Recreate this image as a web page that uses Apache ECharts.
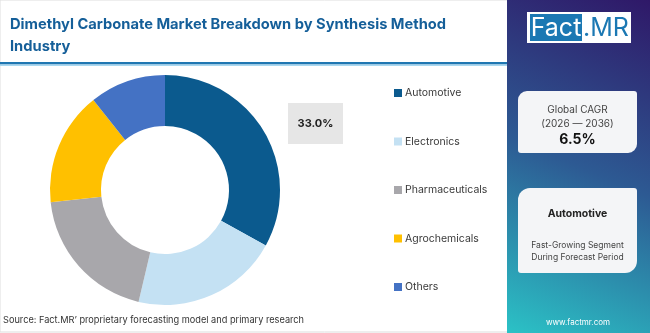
<!DOCTYPE html>
<html><head><meta charset="utf-8">
<script src="https://cdn.jsdelivr.net/npm/echarts@6/dist/echarts.min.js"></script>
<style>html,body{margin:0;padding:0;background:#fff}#c{width:650px;height:333px}</style>
</head><body><div id="c"></div>
<script>
const categories = ['Automotive', 'Electronics', 'Pharmaceuticals', 'Agrochemicals', 'Others'];
const shares = [33.0, 20.7, 19.6, 16.0, 10.7];
const colors = ['#0B5A8E', '#C4E1F3', '#A8A7AB', '#FFC000', '#4472C4'];
const titleLines = ['Dimethyl Carbonate Market Breakdown by Synthesis Method', 'Industry'];
const cagrText = ['Global CAGR', '(2026 \u2014 2036)', '6.5%'];
const segmentText = ['Automotive', 'Fast-Growing Segment', 'During Forecast Period'];
const sourceText = 'Source: Fact.MR\u2019 proprietary forecasting model and primary research';

const F = 'Inter, "Noto Sans", sans-serif';
const chart = echarts.init(document.getElementById('c'), null, {renderer: 'canvas'});
const panelGrad = new echarts.graphic.LinearGradient(1, 0, 0, 1, [
  {offset: 0, color: '#2F1868'},
  {offset: 0.5, color: '#2D5A93'},
  {offset: 1, color: '#2BC2C6'}
]);
chart.setOption({
  animation: false,
  backgroundColor: '#fff',
  color: colors,
  legend: {
    orient: 'vertical', left: 389, top: 81,
    itemWidth: 8, itemHeight: 8, itemGap: 34.5, icon: 'rect',
    textStyle: {fontFamily: F, fontSize: 10.5, color: '#3a3a3a', lineHeight: 14, padding: [0, 0, 0, -2]},
    data: categories
  },
  series: [{
    type: 'pie', center: [165, 190], radius: [64, 115], startAngle: 90, clockwise: true,
    label: {show: false}, labelLine: {show: false}, silent: true,
    data: categories.map((c, i) => ({name: c, value: shares[i]}))
  }],
  graphic: [
    {type: 'rect', shape: {x: 0, y: 0, width: 649, height: 332}, style: {fill: 'none', stroke: '#dddddd', lineWidth: 1}, z: 0},
    {type: 'text', left: 10, top: 14, style: {text: titleLines.join('\n'), font: 'bold 14.7px ' + F, fill: '#155F99', lineHeight: 21.5}},
    {type: 'rect', shape: {x: 0, y: 62, width: 507, height: 2.5}, style: {fill: '#1F77B2'}},
    {type: 'rect', shape: {x: 0, y: 64.5, width: 507, height: 1.5}, style: {fill: '#A9D8F0'}},
    {type: 'rect', shape: {x: 288, y: 103, width: 55, height: 41}, style: {fill: '#E6E6E6'}},
    {type: 'text', x: 315.5, y: 124, style: {text: shares[0].toFixed(1) + '%', font: 'bold 11px ' + F, fill: '#222', align: 'center', verticalAlign: 'middle'}},
    {type: 'text', x: 3, y: 320, style: {text: sourceText, font: '9.2px ' + F, fill: '#333', verticalAlign: 'middle'}},
    {type: 'rect', shape: {x: 507, y: 0, width: 143, height: 333}, style: {fill: panelGrad}},
    {type: 'rect', shape: {x: 527, y: 12, width: 104, height: 31}, style: {fill: '#fff'}},
    {type: 'rect', shape: {x: 530, y: 14, width: 52, height: 27}, style: {fill: '#1B78B3'}},
    {type: 'text', x: 556, y: 28, style: {text: 'Fact', font: '25px ' + F, fill: '#fff', align: 'center', verticalAlign: 'middle'}},
    {type: 'text', x: 606, y: 28, style: {text: '.MR', font: '25px ' + F, fill: '#1B78B3', align: 'center', verticalAlign: 'middle'}},
    {type: 'rect', shape: {x: 518, y: 91, width: 119, height: 62, r: [9, 3, 9, 3]}, style: {fill: '#F4F5F7'}},
    {type: 'text', x: 577.5, y: 110, style: {text: cagrText[0], font: '10px ' + F, fill: '#444', align: 'center', verticalAlign: 'middle'}},
    {type: 'text', x: 577.5, y: 124, style: {text: cagrText[1], font: '10px ' + F, fill: '#444', align: 'center', verticalAlign: 'middle'}},
    {type: 'text', x: 577.5, y: 140, style: {text: cagrText[2], font: 'bold 14px ' + F, fill: '#111', align: 'center', verticalAlign: 'middle'}},
    {type: 'rect', shape: {x: 518, y: 188, width: 119, height: 85, r: [12, 3, 12, 3]}, style: {fill: '#F4F5F7'}},
    {type: 'text', x: 577.5, y: 214, style: {text: segmentText[0], font: 'bold 10.5px ' + F, fill: '#222', align: 'center', verticalAlign: 'middle'}},
    {type: 'text', x: 577.5, y: 245, style: {text: segmentText[1], font: '8.5px ' + F, fill: '#444', align: 'center', verticalAlign: 'middle'}},
    {type: 'text', x: 577.5, y: 257, style: {text: segmentText[2], font: '8.5px ' + F, fill: '#444', align: 'center', verticalAlign: 'middle'}},
    {type: 'text', x: 578, y: 323, style: {text: 'www.factmr.com', font: '8px ' + F, fill: '#fff', align: 'center', verticalAlign: 'middle'}}
  ]
});
</script></body></html>
